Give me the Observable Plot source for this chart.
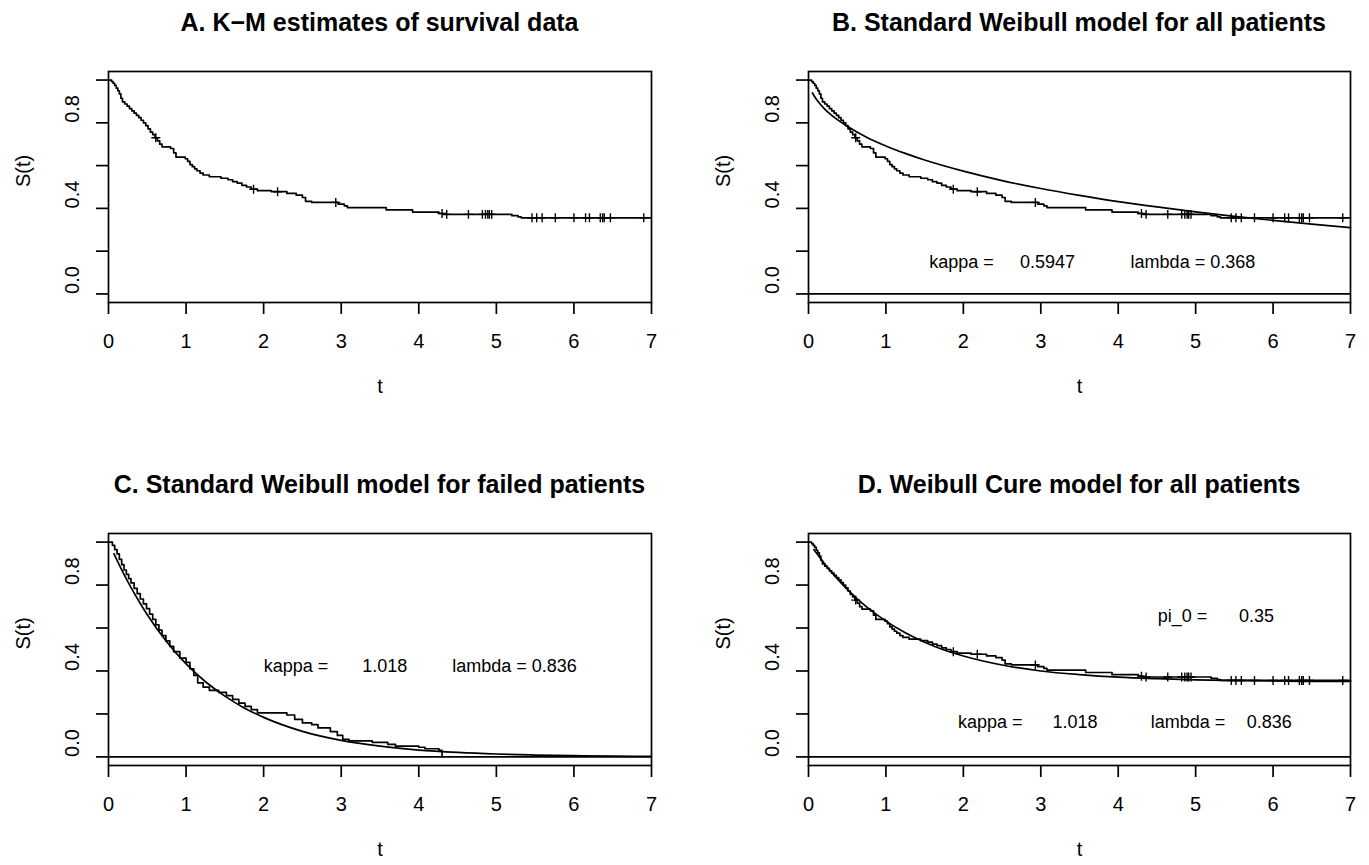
<!DOCTYPE html>
<html><head><meta charset="utf-8">
<script src="https://cdn.jsdelivr.net/npm/d3@7"></script>
<script src="https://cdn.jsdelivr.net/npm/@observablehq/plot@0.6"></script>
<style>
body{margin:0;background:#fff;}
#wrap{position:relative;width:1369px;height:865px;font-family:"Liberation Sans",Arial,Helvetica,sans-serif;background:#fff;}
.title{position:absolute;font-weight:bold;font-size:25px;white-space:nowrap;transform:translate(-50%,-50%);color:#000;}
.panel{position:absolute;}
</style></head><body><div id="wrap"></div>
<script>
// ---- data ----
const panelTitles = ["A. K\u2212M estimates of survival data", "B. Standard Weibull model for all patients",
  "C. Standard Weibull model for failed patients", "D. Weibull Cure model for all patients"];
const xTicks = [0, 1, 2, 3, 4, 5, 6, 7];
const yTicks = [0, 0.2, 0.4, 0.6, 0.8, 1.0];
const yTickLabels = [0, 0.4, 0.8];

// Kaplan-Meier, all patients (step times and survival after each step)
const kmAllTime = [0, 0.04, 0.06, 0.08, 0.10, 0.12, 0.14, 0.16, 0.18, 0.21, 0.24, 0.27, 0.30, 0.33, 0.36, 0.39, 0.42, 0.45, 0.48, 0.51, 0.54, 0.57, 0.60, 0.63, 0.66, 0.69, 0.80, 0.84, 0.87, 0.99, 1.02, 1.05, 1.08, 1.11, 1.14, 1.18, 1.22, 1.30, 1.45, 1.54, 1.60, 1.66, 1.72, 1.78, 1.84, 1.92, 2.10, 2.30, 2.42, 2.50, 2.54, 2.62, 2.96, 3.04, 3.08, 3.58, 3.92, 4.26, 4.32, 5.20, 5.28, 5.32, 7.0];
const kmAllSurv = [1.0, 0.993, 0.985, 0.975, 0.962, 0.950, 0.935, 0.915, 0.898, 0.888, 0.878, 0.866, 0.856, 0.845, 0.835, 0.824, 0.812, 0.800, 0.787, 0.772, 0.757, 0.745, 0.730, 0.716, 0.700, 0.688, 0.680, 0.660, 0.640, 0.632, 0.620, 0.605, 0.595, 0.585, 0.576, 0.565, 0.556, 0.548, 0.541, 0.534, 0.525, 0.518, 0.508, 0.500, 0.490, 0.483, 0.478, 0.470, 0.462, 0.451, 0.433, 0.428, 0.420, 0.412, 0.404, 0.393, 0.383, 0.376, 0.372, 0.366, 0.360, 0.356, 0.356];
const censorTime = [0.61, 1.87, 2.18, 2.93, 4.30, 4.36, 4.64, 4.82, 4.86, 4.89, 4.91, 4.94, 5.46, 5.52, 5.59, 5.76, 6.00, 6.15, 6.20, 6.34, 6.37, 6.39, 6.47, 6.90];

// Kaplan-Meier, failed patients
const kmFailTime = [0, 0.05, 0.08, 0.11, 0.14, 0.17, 0.20, 0.23, 0.26, 0.29, 0.33, 0.37, 0.41, 0.45, 0.49, 0.53, 0.57, 0.61, 0.65, 0.69, 0.74, 0.79, 0.84, 0.92, 1.00, 1.05, 1.10, 1.15, 1.22, 1.30, 1.42, 1.52, 1.60, 1.68, 1.76, 1.84, 1.92, 2.30, 2.40, 2.50, 2.62, 2.70, 2.86, 2.95, 3.02, 3.10, 3.40, 3.60, 3.70, 4.00, 4.08, 4.26, 4.30];
const kmFailSurv = [1.0, 0.985, 0.965, 0.945, 0.920, 0.895, 0.870, 0.850, 0.830, 0.810, 0.785, 0.760, 0.735, 0.712, 0.690, 0.665, 0.640, 0.615, 0.590, 0.565, 0.540, 0.515, 0.490, 0.460, 0.440, 0.410, 0.380, 0.345, 0.325, 0.310, 0.300, 0.285, 0.268, 0.250, 0.235, 0.220, 0.205, 0.195, 0.175, 0.158, 0.150, 0.135, 0.118, 0.100, 0.082, 0.075, 0.068, 0.058, 0.050, 0.045, 0.038, 0.030, 0.0];

// fitted curves
const fitBTime = [0.05, 0.1, 0.15, 0.2, 0.3, 0.4, 0.5, 0.75, 1, 1.25, 1.5, 2, 2.5, 3, 3.5, 4, 4.5, 5, 5.5, 6, 6.5, 7];
const fitBSurv = [0.940, 0.911, 0.888, 0.868, 0.835, 0.808, 0.784, 0.733, 0.692, 0.657, 0.626, 0.574, 0.530, 0.493, 0.461, 0.432, 0.407, 0.384, 0.363, 0.344, 0.326, 0.310];
const fitCTime = [0.07, 0.1, 0.15, 0.2, 0.3, 0.4, 0.5, 0.75, 1, 1.25, 1.5, 1.75, 2, 2.5, 3, 3.5, 4, 4.5, 5, 5.5, 6, 6.5, 7];
const fitCSurv = [0.946, 0.923, 0.886, 0.850, 0.782, 0.720, 0.662, 0.536, 0.433, 0.350, 0.283, 0.228, 0.184, 0.119, 0.077, 0.050, 0.032, 0.021, 0.0135, 0.0087, 0.0056, 0.0036, 0.0023];
const fitDTime = [0.07, 0.1, 0.15, 0.2, 0.3, 0.4, 0.5, 0.75, 1, 1.25, 1.5, 1.75, 2, 2.5, 3, 3.5, 4, 4.5, 5, 5.5, 6, 6.5, 7];
const fitDSurv = [0.965, 0.950, 0.926, 0.903, 0.859, 0.818, 0.780, 0.698, 0.632, 0.578, 0.534, 0.498, 0.470, 0.428, 0.400, 0.383, 0.371, 0.364, 0.359, 0.356, 0.354, 0.352, 0.352];

// annotations
const annBText = ["kappa =", "0.5947", "lambda = 0.368"];
const annBTime = [1.56, 2.73, 4.16];
const annBSurv = [0.148, 0.148, 0.148];
const annCText = ["kappa =", "1.018", "lambda = 0.836"];
const annCTime = [2.00, 3.27, 4.43];
const annCSurv = [0.42, 0.42, 0.42];
const annDText = ["pi_0 =", "0.35", "kappa =", "1.018", "lambda =", "0.836"];
const annDTime = [4.51, 5.56, 1.93, 3.15, 4.42, 5.66];
const annDSurv = [0.653, 0.653, 0.163, 0.163, 0.163, 0.163];

// ---- build ----
const rows = (ts, ss) => ts.map((t, i) => ({t, s: ss[i]}));
const kmAll = rows(kmAllTime, kmAllSurv);
const kmFail = rows(kmFailTime, kmFailSurv);
const survAt = t => kmAllSurv[d3.bisectRight(kmAllTime, t) - 1];
const censors = censorTime.map(t => ({t, s: survAt(t)}));
const fitB = rows(fitBTime, fitBSurv), fitC = rows(fitCTime, fitCSurv), fitD = rows(fitDTime, fitDSurv);
const annB = annBText.map((text, i) => ({text, t: annBTime[i], s: annBSurv[i]}));
const annC = annCText.map((text, i) => ({text, t: annCTime[i], s: annCSurv[i]}));
const annD = annDText.map((text, i) => ({text, t: annDTime[i], s: annDSurv[i]}));

const FONT = "'Liberation Sans', Arial, Helvetica, sans-serif";
const LW = 1.7;
const wrap = document.getElementById("wrap");

const geomCol = [{left: 0, width: 684, ml: 108, mr: 33}, {left: 684, width: 685, ml: 124, mr: 19}];
const geomRow = [{top: 40, height: 390, mt: 31, mb: 128, titleY: 22}, {top: 502, height: 363, mt: 31, mb: 100, titleY: 484}];

function kmMarks(data, withCensor) {
  const m = [Plot.line(data, {x: "t", y: "s", curve: "step-after", stroke: "black", strokeWidth: LW})];
  if (withCensor) m.push(Plot.dot(censors, {x: "t", y: "s", symbol: "plus", r: 3, stroke: "black", strokeWidth: 1.4}));
  return m;
}
function fitMarks(data) {
  return [Plot.line(data, {x: "t", y: "s", curve: "monotone-x", stroke: "black", strokeWidth: LW})];
}
function annMarks(data) {
  return [Plot.text(data, {x: "t", y: "s", text: "text", textAnchor: "start", fontSize: 18, fill: "black"})];
}

const panels = [
  {row: 0, col: 0, marks: [...kmMarks(kmAll, true)]},
  {row: 0, col: 1, marks: [Plot.ruleY([0], {stroke: "black", strokeWidth: LW}), ...kmMarks(kmAll, true), ...fitMarks(fitB), ...annMarks(annB)]},
  {row: 1, col: 0, marks: [Plot.ruleY([0], {stroke: "black", strokeWidth: LW}), ...kmMarks(kmFail, false), ...fitMarks(fitC), ...annMarks(annC)]},
  {row: 1, col: 1, marks: [Plot.ruleY([0], {stroke: "black", strokeWidth: LW}), ...kmMarks(kmAll, true), ...fitMarks(fitD), ...annMarks(annD)]}
];

panels.forEach((p, i) => {
  const c = geomCol[p.col], r = geomRow[p.row];
  const svg = Plot.plot({
    width: c.width, height: r.height,
    marginLeft: c.ml, marginRight: c.mr, marginTop: r.mt, marginBottom: r.mb,
    x: {domain: [0, 7]},
    y: {domain: [-0.04, 1.04]},
    style: {fontFamily: FONT, fontSize: "20px", color: "black", background: "white", overflow: "visible"},
    marks: [
      Plot.axisX(xTicks, {tickSize: 12, tickPadding: 19, fontSize: 20, label: null, strokeWidth: LW, tickFormat: d => String(d)}),
      Plot.axisY(yTicks, {tickSize: 12, tickFormat: () => "", label: null, strokeWidth: LW}),
      Plot.text(yTickLabels, {y: d => d, frameAnchor: "left", dx: -36, rotate: -90, text: d => d.toFixed(1), fontSize: 20, fill: "black"}),
      Plot.text(["S(t)"], {frameAnchor: "left", dx: -85, rotate: -90, fontSize: 20, fill: "black"}),
      Plot.text(["t"], {frameAnchor: "bottom", dy: 90, fontSize: 20, fill: "black"}),
      ...p.marks,
      Plot.frame({stroke: "black", strokeWidth: LW})
    ]
  });
  svg.classList.add("panel");
  svg.style.left = c.left + "px";
  svg.style.top = r.top + "px";
  wrap.appendChild(svg);
  const t = document.createElement("div");
  t.className = "title";
  t.textContent = panelTitles[i];
  t.style.left = (c.left + c.ml + (c.width - c.ml - c.mr) / 2) + "px";
  t.style.top = r.titleY + "px";
  wrap.appendChild(t);
});
</script></body></html>
